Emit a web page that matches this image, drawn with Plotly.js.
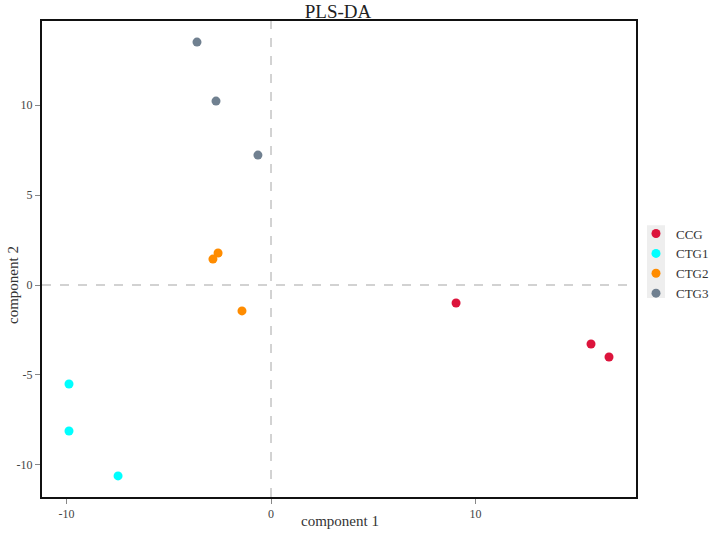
<!DOCTYPE html>
<html>
<head>
<meta charset="utf-8">
<script src="https://cdn.plot.ly/plotly-3.0.1.min.js"></script>
<style>html,body{margin:0;padding:0;background:#fff;}#chart{width:709px;height:535px;}</style>
</head>
<body>
<div id="chart"></div>
<script>
const groups = ["CCG", "CTG1", "CTG2", "CTG3"];
const colors = ["#DC143C", "#00FFFF", "#FF8C00", "#708090"];
const comp1_CCG = [9.05, 15.65, 16.53];
const comp2_CCG = [-1.0, -3.28, -4.0];
const comp1_CTG1 = [-9.88, -9.88, -7.48];
const comp2_CTG1 = [-5.5, -8.11, -10.61];
const comp1_CTG2 = [-2.59, -2.84, -1.42];
const comp2_CTG2 = [1.78, 1.44, -1.44];
const comp1_CTG3 = [-3.62, -2.69, -0.64];
const comp2_CTG3 = [13.5, 10.22, 7.22];

const xs = [comp1_CCG, comp1_CTG1, comp1_CTG2, comp1_CTG3];
const ys = [comp2_CCG, comp2_CTG1, comp2_CTG2, comp2_CTG3];

const traces = groups.map((g, i) => ({
  type: "scatter", mode: "markers", name: g,
  x: xs[i], y: ys[i],
  marker: {color: colors[i], size: 9}
}));

const fam = "Liberation Serif, Times New Roman, serif";

const layout = {
  width: 709, height: 535,
  margin: {l: 42, r: 73, t: 21, b: 38, autoexpand: false},
  paper_bgcolor: "#fff", plot_bgcolor: "#fff",
  font: {family: fam, color: "#444"},
  title: {text: "PLS-DA", x: (338 - 42) / 594, xanchor: "center", xref: "paper",
          yref: "container", y: 1 - 11 / 535, yanchor: "middle",
          font: {family: fam, size: 19, color: "#222"}},
  xaxis: {
    range: [-11.2, 17.85], tickvals: [-10, 0, 10], ticktext: ["-10", "0", "10"],
    showgrid: false, zeroline: false, showline: true, linecolor: "#111", linewidth: 2, mirror: true,
    ticks: "outside", ticklen: 5, tickcolor: "#888", tickwidth: 1,
    tickfont: {family: fam, size: 12, color: "#444"}
  },
  yaxis: {
    range: [-11.78, 14.67], tickvals: [-10, -5, 0, 5, 10], ticktext: ["-10", "-5", "0", "5", "10"],
    showgrid: false, zeroline: false, showline: true, linecolor: "#111", linewidth: 2, mirror: true,
    ticks: "outside", ticklen: 5, tickcolor: "#888", tickwidth: 1,
    tickfont: {family: fam, size: 12, color: "#444"}
  },
  annotations: [
    {text: "component 1", xref: "paper", yref: "paper", x: (340 - 42) / 594, y: (497 - 521) / 476,
     xanchor: "center", yanchor: "middle", showarrow: false,
     font: {family: fam, size: 15, color: "#333"}},
    {text: "component 2", xref: "paper", yref: "paper", x: (13 - 42) / 594, y: (497 - 285) / 476,
     xanchor: "center", yanchor: "middle", showarrow: false, textangle: -90,
     font: {family: fam, size: 15, color: "#333"}}
  ],
  legend: {x: 1.0, xanchor: "left", y: 0.585, yanchor: "top",
           font: {family: fam, size: 13, color: "#333"},
           bgcolor: "rgba(0,0,0,0)", itemwidth: 30, tracegroupgap: 0},
  shapes: [
    {type: "line", xref: "x", yref: "paper", x0: 0, x1: 0, y0: 0, y1: 1,
     line: {color: "#c4c4c4", width: 1.5, dash: "dash"}, layer: "below"},
    {type: "line", xref: "paper", yref: "y", x0: 0, x1: 1, y0: 0, y1: 0,
     line: {color: "#c4c4c4", width: 1.5, dash: "dash"}, layer: "below"},
    {type: "rect", xref: "paper", yref: "paper", x0: (647 - 42) / 594, x1: (665 - 42) / 594, y0: 0.418, y1: 0.571,
     fillcolor: "#eeeeee", line: {width: 0}, layer: "below"}
  ],
  showlegend: true
};

Plotly.newPlot("chart", traces, layout, {displayModeBar: false, staticPlot: true});
</script>
</body>
</html>
